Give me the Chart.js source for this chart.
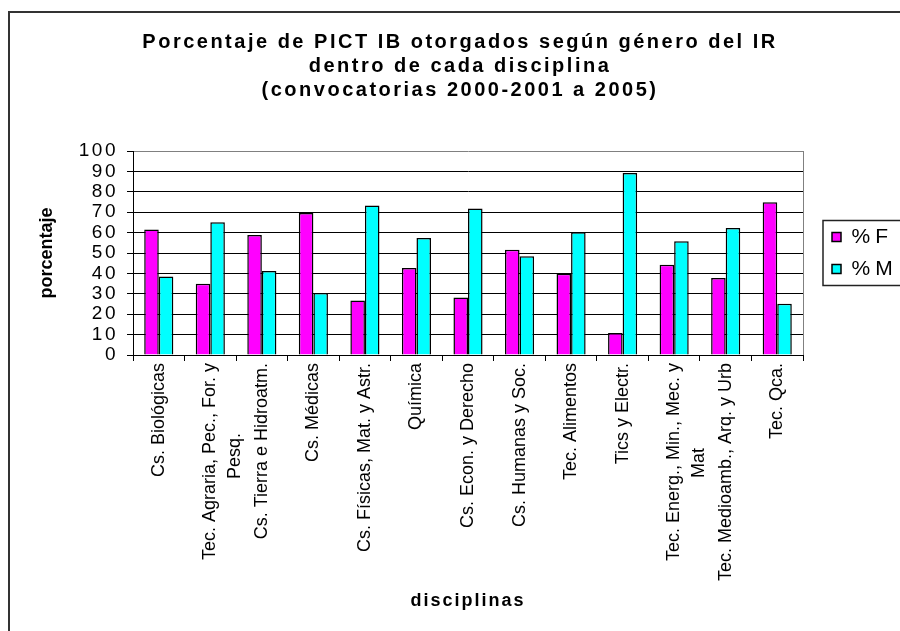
<!DOCTYPE html>
<html>
<head>
    <meta charset="utf-8">
    <script src="https://cdn.jsdelivr.net/npm/chart.js@4.4.1/dist/chart.umd.min.js"></script>
    <style>
        body {
            margin: 0;
            background: #fff;
        }

        #frame {
            position: absolute;
            left: 8px;
            top: 11px;
            width: 1000px;
            height: 1000px;
            border-left: 2px solid #333;
            border-top: 2px solid #333;
        }

        #wrap {
            position: absolute;
            left: 0;
            top: 0;
            width: 900px;
            height: 631px;
        }
    </style>
    <title>Porcentaje de PICT IB otorgados según género del IR</title>
</head>
<body>
    <div id="frame"></div>
    <div id="wrap">
        <canvas id="myChart" width="900" height="631"></canvas>
    </div>

    <script>
        // disciplinas (second lines padded so they sit centred like in the original)
        var disciplinas = [
            'Cs. Biológicas',
            ['Tec. Agraria, Pec., For. y', 'Pesq.              '],
            'Cs. Tierra e Hidroatm.',
            'Cs. Médicas',
            'Cs. Físicas, Mat. y Astr.',
            'Química',
            'Cs. Econ. y Derecho',
            'Cs. Humanas y Soc.',
            'Tec. Alimentos',
            'Tics y Electr.',
            ['Tec. Energ., Min., Mec. y', 'Mat                 '],
            'Tec. Medioamb., Arq. y Urb',
            'Tec. Qca.'
        ];

        var pctF = [61.5, 34.9, 58.8, 69.6, 26.7, 42.7, 28.2, 51.6, 39.8, 10.8, 44.3, 37.7, 74.9];
        var pctM = [38.5, 65.1, 41.2, 30.4, 73.3, 57.3, 71.8, 48.4, 60.2, 89.2, 55.7, 62.3, 25.1];

        var titulo = [
            'Porcentaje de PICT IB otorgados según género del IR',
            'dentro de cada disciplina',
            '(convocatorias 2000-2001 a 2005)'
        ];

        var FONT = "'Liberation Sans', Arial, sans-serif";
        Chart.defaults.font.family = FONT;
        Chart.defaults.color = '#000';

        // excel spreads its text out, canvas can do that with letterSpacing
        function spaced(obj, name, px) {
            if (!obj || obj['_sp_' + name]) return;
            var orig = obj[name];
            obj[name] = function () {
                var ctx = this.ctx;
                var prev = ctx.letterSpacing;
                ctx.letterSpacing = px + 'px';
                orig.apply(this, arguments);
                ctx.letterSpacing = prev;
            };
            obj['_sp_' + name] = true;
        }

        var legendWidth = 97;

        var excelLook = {
            id: 'excelLook',
            beforeLayout: function (chart) {
                var lg = chart.legend;
                if (lg && !lg._fixed) {
                    var fit = lg.fit;
                    lg.fit = function () {
                        fit.call(this);
                        this.width = legendWidth;
                    };
                    lg._fixed = true;
                }
            },
            afterLayout: function (chart) {
                chart.legend.left += 18;
                spaced(chart.titleBlock, 'draw', 2.5);
                spaced(chart.legend, 'draw', 5);
                spaced(chart.scales.y, 'drawLabels', 2.5);
                spaced(chart.scales.x, 'drawTitle', 2);
            },
            afterDraw: function (chart) {
                var lg = chart.legend;
                var hb = lg.legendHitBoxes;
                if (!hb || !hb.length) return;
                var ctx = chart.ctx;
                var top = hb[0].top - 6;
                var bottom = hb[hb.length - 1].top + hb[hb.length - 1].height + 6;
                ctx.save();
                ctx.strokeStyle = '#222';
                ctx.lineWidth = 1.5;
                ctx.strokeRect(lg.left + 2, top, 200, bottom - top);
                ctx.restore();
            }
        };

        var ctx = document.getElementById('myChart').getContext('2d');

        var chart = new Chart(ctx, {
            type: 'bar',
            data: {
                labels: disciplinas,
                datasets: [{
                    label: '%F',
                    data: pctF,
                    backgroundColor: '#FF00FF',
                    borderColor: '#000',
                    borderWidth: 1.5
                }, {
                    label: '%M',
                    data: pctM,
                    backgroundColor: '#00FFFF',
                    borderColor: '#000',
                    borderWidth: 1.5
                }]
            },
            options: {
                responsive: false,
                animation: false,
                devicePixelRatio: 1,
                categoryPercentage: 0.565,
                barPercentage: 1.0,
                layout: {
                    padding: { left: 20, right: 0, top: 0, bottom: 0 }
                },
                plugins: {
                    tooltip: { enabled: false },
                    title: {
                        display: true,
                        text: titulo,
                        color: '#000',
                        font: { size: 20, weight: 'bold', lineHeight: 1.2 },
                        padding: { top: 30, bottom: 49 }
                    },
                    legend: {
                        position: 'right',
                        fullSize: false,
                        labels: {
                            boxWidth: 9,
                            boxHeight: 9,
                            padding: 11,
                            color: '#000',
                            font: { size: 21 }
                        }
                    }
                },
                scales: {
                    x: {
                        afterFit: function (scale) { scale.height = 276; },
                        border: { display: true, color: '#000', width: 1 },
                        grid: {
                            offset: true,
                            color: function (c) { return c.tick ? 'transparent' : '#808080'; },
                            tickColor: '#000',
                            tickLength: 6,
                            lineWidth: 1
                        },
                        ticks: {
                            autoSkip: false,
                            minRotation: 90,
                            maxRotation: 90,
                            padding: 2,
                            color: '#000',
                            font: { size: 18, lineHeight: 1.4 }
                        },
                        title: {
                            display: true,
                            text: 'disciplinas',
                            color: '#000',
                            font: { size: 18, weight: 'bold', lineHeight: 1.2 },
                            padding: { top: 0, bottom: 19 }
                        }
                    },
                    y: {
                        min: 0,
                        max: 100,
                        afterFit: function (scale) { scale.width = 113; },
                        border: { display: true, color: '#000', width: 1 },
                        grid: {
                            color: function (c) { return c.tick && c.tick.value === 100 ? '#808080' : '#000'; },
                            tickColor: '#000',
                            tickLength: 6,
                            lineWidth: 1
                        },
                        ticks: {
                            stepSize: 10,
                            autoSkip: false,
                            padding: 9,
                            color: '#000',
                            font: { size: 19, lineHeight: 1 }
                        },
                        title: {
                            display: true,
                            text: 'porcentaje',
                            color: '#000',
                            font: { size: 18, weight: 'bold', lineHeight: 1.2 },
                            padding: { top: 16, bottom: 0 }
                        }
                    }
                }
            },
            plugins: [excelLook]
        });
    </script>
</body>
</html>
